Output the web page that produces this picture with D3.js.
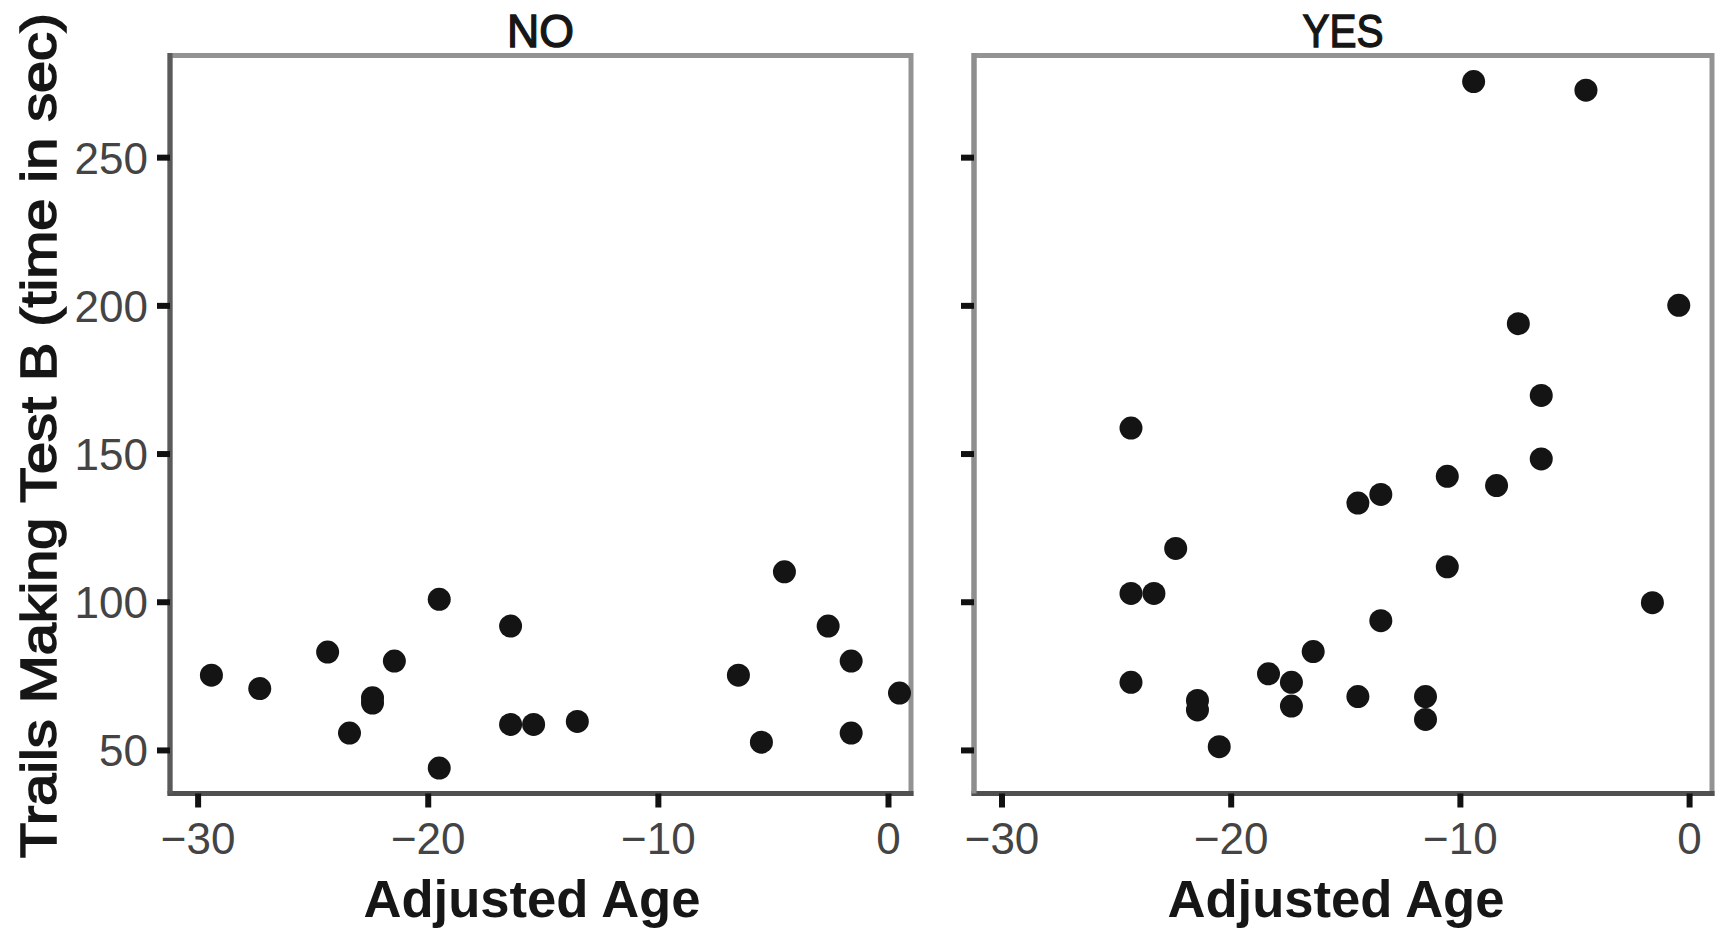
<!DOCTYPE html>
<html>
<head>
<meta charset="utf-8">
<script src="https://cdn.jsdelivr.net/npm/d3@7"></script>
<style>
  html, body { margin: 0; padding: 0; background: #ffffff; }
  svg { display: block; }
</style>
</head>
<body>
<svg id="chart" width="1719" height="928"></svg>
<script>
// ---- data ----
const panels = ["NO", "YES"];
const noAge  = [-29.4, -27.3, -24.35, -23.4, -22.4, -22.4, -21.45, -19.5, -19.5, -16.4, -16.4, -15.4, -13.5, -6.5, -5.5, -4.5, -2.6, -1.6, -1.6, 0.5];
const noTime = [75.2, 70.7, 83.0, 55.7, 67.6, 65.8, 80.0, 100.8, 43.9, 91.8, 58.6, 58.6, 59.6, 75.2, 52.6, 110.1, 91.8, 80.0, 55.7, 69.2];
const yesAge  = [-9.4, -4.5, -0.45, -7.45, -6.45, -24.35, -6.45, -10.55, -8.4, -13.45, -14.45, -22.4, -10.55, -24.35, -23.35, -1.6, -13.45, -16.4, -18.35, -17.35, -24.35, -14.45, -11.5, -21.45, -21.45, -17.35, -11.5, -20.5];
const yesTime = [275.5, 272.6, 200.0, 193.8, 169.6, 158.6, 148.2, 142.3, 139.2, 136.2, 133.3, 118.0, 111.8, 102.8, 102.8, 99.7, 93.6, 83.2, 75.7, 72.8, 72.8, 68.0, 68.0, 66.7, 63.5, 64.8, 60.3, 51.1];
const xTicks = [-30, -20, -10, 0];
const yTicks = [50, 100, 150, 200, 250];
const xTitle = "Adjusted Age";
const yTitle = "Trails Making Test B (time in sec)";

// ---- layout ----
const svg = d3.select("#chart");
const pTop = 55.5, pBottom = 793.5;
const panelBoxes = [
  { name: panels[0], x0: 170, x1: 911, age: noAge,  time: noTime,  labels: true,  titleW: 67, xTitleCx: 532 },
  { name: panels[1], x0: 974, x1: 1712, age: yesAge, time: yesTime, labels: false, titleW: 81, xTitleCx: 1336 }
];
const y = d3.scaleLinear().domain([35.3, 284.3]).range([pBottom, pTop]);
const fmt = d => (d < 0 ? "\u2212" + Math.abs(d) : String(d));

panelBoxes.forEach(p => {
  const x = d3.scaleLinear().domain([-31.2, 1.0]).range([p.x0, p.x1]);
  const g = svg.append("g");

  // panel border
  g.append("rect")
    .attr("x", p.x0).attr("y", pTop)
    .attr("width", p.x1 - p.x0).attr("height", pBottom - pTop)
    .attr("fill", "none").attr("stroke", "#939393").attr("stroke-width", 5);

  // points
  g.selectAll("circle").data(d3.range(p.age.length)).join("circle")
    .attr("cx", i => x(p.age[i]))
    .attr("cy", i => y(p.time[i]))
    .attr("r", 11.5)
    .attr("fill", "#141414");

  // x axis
  const xa = g.append("g").attr("transform", `translate(0,${pBottom})`)
    .call(d3.axisBottom(x).tickValues(xTicks).tickFormat(fmt).tickSize(14).tickSizeOuter(0).tickPadding(15));
  xa.select(".domain").attr("stroke", "#505050").attr("stroke-width", 5)
    .attr("d", `M${p.x0 - 2.5},0H${p.x1 + 2.5}`);
  xa.selectAll(".tick line").attr("stroke", "#111").attr("stroke-width", 6);
  xa.selectAll(".tick text")
    .attr("font-family", "'Liberation Sans', Arial, sans-serif")
    .attr("font-size", 44).attr("fill", "#444");

  // y axis
  const ya = g.append("g").attr("transform", `translate(${p.x0},0)`)
    .call(d3.axisLeft(y).tickValues(yTicks).tickFormat(p.labels ? fmt : () => "").tickSize(13).tickSizeOuter(0).tickPadding(9));
  ya.select(".domain").attr("stroke", p.labels ? "#5a5a5a" : "#8e8e8e").attr("stroke-width", 5)
    .attr("d", `M0,${pTop - 2.5}V${pBottom}`);
  ya.selectAll(".tick line").attr("stroke", "#111").attr("stroke-width", 6);
  ya.selectAll(".tick text")
    .attr("font-family", "'Liberation Sans', Arial, sans-serif")
    .attr("font-size", 44).attr("fill", "#444").attr("dy", "0.36em");

  // strip title
  svg.append("text")
    .attr("x", (p.x0 + p.x1) / 2).attr("y", 47)
    .attr("text-anchor", "middle")
    .attr("font-family", "'Liberation Sans', Arial, sans-serif")
    .attr("font-size", 47).attr("fill", "#161616")
    .attr("stroke", "#161616").attr("stroke-width", 1.4)
    .attr("textLength", p.titleW).attr("lengthAdjust", "spacingAndGlyphs")
    .text(p.name);

  // x title
  svg.append("text")
    .attr("x", p.xTitleCx).attr("y", 917)
    .attr("text-anchor", "middle")
    .attr("font-family", "'Liberation Sans', Arial, sans-serif")
    .attr("font-weight", "bold")
    .attr("font-size", 51).attr("fill", "#161616")
    .attr("textLength", 337).attr("lengthAdjust", "spacingAndGlyphs")
    .text(xTitle);
});

// y title
svg.append("text")
  .attr("transform", "translate(56,435.5) rotate(-90)")
  .attr("text-anchor", "middle")
  .attr("font-family", "'Liberation Sans', Arial, sans-serif")
  .attr("font-size", 50).attr("fill", "#161616")
  .attr("stroke", "#161616").attr("stroke-width", 1.6)
  .attr("textLength", 845).attr("lengthAdjust", "spacingAndGlyphs")
  .text(yTitle);
</script>
</body>
</html>
